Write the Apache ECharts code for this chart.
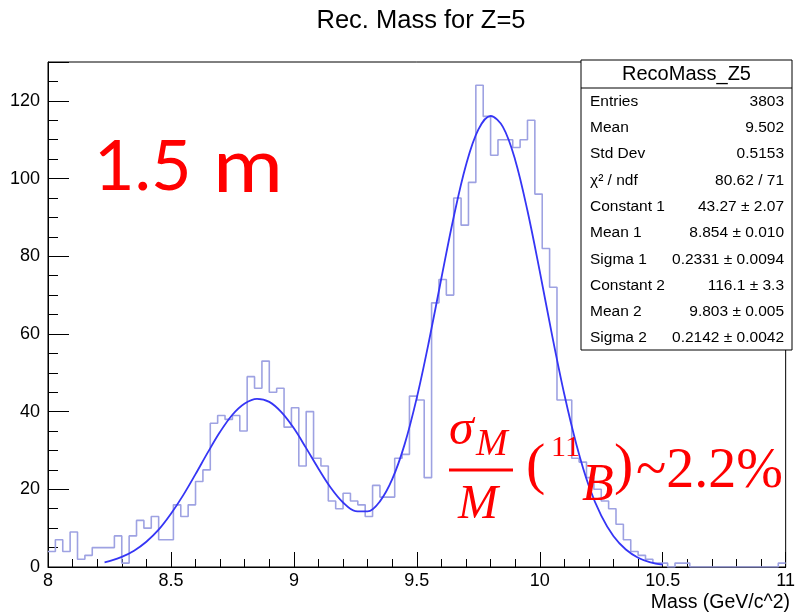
<!DOCTYPE html>
<html>
<head>
<meta charset="utf-8">
<script src="https://cdn.jsdelivr.net/npm/echarts@6/dist/echarts.min.js"></script>
<style>
html,body{margin:0;padding:0;background:#fff;}
#main{width:798px;height:613px;}
</style>
</head>
<body>
<div id="main"></div>
<script>
// ---- data ----
const chartTitle = 'Rec. Mass for Z=5';
const xAxisTitle = 'Mass (GeV/c^2)';
const binStart = 8.0;
const binWidth = 0.03;
const counts = [
  4, 7, 4, 9, 2, 3, 5, 5, 5, 8,
  1, 8, 12, 10, 13, 7, 7, 16, 13, 16,
  22, 25, 37, 39, 38, 39, 35, 49, 46, 53,
  45, 46, 36, 41, 26, 40, 28, 26, 17, 15,
  19, 17, 16, 13, 21, 18, 18, 28, 29, 44,
  43, 23, 68, 74, 70, 95, 88, 99, 124, 116,
  106, 110, 110, 108, 110, 115, 96, 82, 72, 43,
  43, 28, 27, 23, 20, 17, 15, 11, 7, 4,
  3, 2, 1, 1, 0, 1, 1, 0, 0, 0,
  0, 0, 0, 0, 0, 0, 0, 0, 0, 1
];
const fitX = [8.23, 8.25, 8.30, 8.35, 8.40, 8.45, 8.50, 8.55, 8.60, 8.65,
  8.70, 8.75, 8.80, 8.85, 8.90, 8.95, 9.00, 9.05, 9.10, 9.15,
  9.20, 9.25, 9.30, 9.35, 9.40, 9.45, 9.50, 9.55, 9.60, 9.65,
  9.70, 9.75, 9.80, 9.85, 9.90, 9.95, 10.00, 10.05, 10.10, 10.15,
  10.20, 10.25, 10.30, 10.35, 10.40, 10.45, 10.50];
const fitY = [1.2, 1.5, 2.6, 4.2, 6.5, 9.6, 13.7, 18.5, 23.9, 29.5,
  34.8, 39.2, 42.1, 43.3, 42.5, 39.8, 35.7, 30.6, 25.3, 20.4,
  16.6, 14.4, 14.3, 16.9, 22.6, 31.5, 43.6, 58.3, 74.4, 90.1,
  103.5, 112.6, 116.1, 113.3, 104.8, 91.7, 76.1, 59.7, 44.4, 31.3,
  20.8, 13.2, 7.9, 4.5, 2.4, 1.2, 0.6];
const statsTitle = 'RecoMass_Z5';
const statsNames = ['Entries', 'Mean', 'Std Dev', 'χ² / ndf', 'Constant 1', 'Mean 1', 'Sigma 1', 'Constant 2', 'Mean 2', 'Sigma 2'];
const statsValues = ['3803', '9.502', '0.5153', '80.62 / 71', '43.27 ± 2.07', '8.854 ± 0.010', '0.2331 ± 0.0094', '116.1 ± 3.3', '9.803 ± 0.005', '0.2142 ± 0.0042'];
const bigLabelNum = '1.5';
const bigLabelUnit = 'm';

// ---- build series ----
const histData = counts.map((c, k) => [binStart + k * binWidth, c]);
histData.push([binStart + counts.length * binWidth, counts[counts.length - 1]]);
const fitData = fitX.map((x, i) => [x, fitY[i]]);

const SANS = '"Liberation Sans", Arial, Helvetica, sans-serif';
const SERIF = '"Liberation Serif", "DejaVu Serif", serif';
const RED = '#ff0000';

const graphics = [];
// title
graphics.push({type: 'text', x: 421, y: 21, style: {text: chartTitle, font: '25.5px ' + SANS, fill: '#000', align: 'center', verticalAlign: 'middle'}});
// x axis title
graphics.push({type: 'text', x: 790, y: 603, style: {text: xAxisTitle, font: '19.5px ' + SANS, fill: '#000', align: 'right', verticalAlign: 'middle'}});
// stats box
const boxL = 581, boxR = 792, boxT = 60, boxB = 350, headB = 88;
graphics.push({type: 'rect', shape: {x: boxL, y: boxT, width: boxR - boxL, height: boxB - boxT}, style: {fill: '#fff', stroke: '#000', lineWidth: 1}, z: 10});
graphics.push({type: 'line', shape: {x1: boxL, y1: headB, x2: boxR, y2: headB}, style: {stroke: '#000', lineWidth: 1}, z: 11});
graphics.push({type: 'text', x: (boxL + boxR) / 2, y: 74, z: 11, style: {text: statsTitle, font: '20px ' + SANS, fill: '#000', align: 'center', verticalAlign: 'middle'}});
statsNames.forEach((n, i) => {
  const y = 101.5 + i * 26.3;
  graphics.push({type: 'text', x: 590, y: y, z: 11, style: {text: n, font: '15.5px ' + SANS, fill: '#000', align: 'left', verticalAlign: 'middle'}});
  graphics.push({type: 'text', x: 784, y: y, z: 11, style: {text: statsValues[i], font: '15.5px ' + SANS, fill: '#000', align: 'right', verticalAlign: 'middle'}});
});
// big red label
graphics.push({type: 'text', x: 94, y: 167, z: 12, style: {text: bigLabelNum, font: '70px Lato, "Open Sans", sans-serif', fill: RED, align: 'left', verticalAlign: 'middle'}});
graphics.push({type: 'text', x: 213, y: 167, scaleX: 1.12, z: 12, style: {text: bigLabelUnit, font: '76px Lato, "Open Sans", sans-serif', fill: RED, align: 'left', verticalAlign: 'middle'}});
// formula sigma_M / M ( 11B ) ~2.2%
graphics.push({type: 'text', x: 449, y: 431, z: 12, style: {text: 'σ', font: 'italic 50px ' + SERIF, fill: RED, align: 'left', verticalAlign: 'middle'}});
graphics.push({type: 'text', x: 476, y: 445, z: 12, style: {text: 'M', font: 'italic 38px ' + SERIF, fill: RED, align: 'left', verticalAlign: 'middle'}});
graphics.push({type: 'line', z: 12, shape: {x1: 449, y1: 470, x2: 513, y2: 470}, style: {stroke: RED, lineWidth: 3}});
graphics.push({type: 'text', x: 458, y: 505, z: 12, style: {text: 'M', font: 'italic 48px ' + SERIF, fill: RED, align: 'left', verticalAlign: 'middle'}});
graphics.push({type: 'text', x: 526, y: 468, z: 12, style: {text: '(', font: '58px ' + SERIF, fill: RED, align: 'left', verticalAlign: 'middle'}});
graphics.push({type: 'text', x: 551, y: 448, z: 12, style: {text: '11', font: '30px ' + SERIF, fill: RED, align: 'left', verticalAlign: 'middle'}});
graphics.push({type: 'text', x: 582, y: 486, z: 12, style: {text: 'B', font: 'italic 52px ' + SERIF, fill: RED, align: 'left', verticalAlign: 'middle'}});
graphics.push({type: 'text', x: 614, y: 468, z: 12, style: {text: ')', font: '58px ' + SERIF, fill: RED, align: 'left', verticalAlign: 'middle'}});
graphics.push({type: 'text', x: 636, y: 472, z: 12, style: {text: '~2.2%', font: '56px ' + SERIF, fill: RED, align: 'left', verticalAlign: 'middle'}});

const axisFont = {color: '#000', fontFamily: SANS, fontSize: 18};
const option = {
  animation: false,
  backgroundColor: '#fff',
  grid: {left: 48, right: 6, top: 62, bottom: 46, show: true, borderColor: '#000', borderWidth: 1, backgroundColor: 'transparent'},
  xAxis: {
    type: 'value', min: 8, max: 11, interval: 0.5,
    axisLine: {show: true, onZero: false, lineStyle: {color: '#000', width: 1}},
    axisTick: {show: true, inside: true, length: 15, lineStyle: {color: '#000'}},
    minorTick: {show: true, splitNumber: 5, length: 8, lineStyle: {color: '#000'}},
    axisLabel: Object.assign({margin: 5, formatter: v => String(v)}, axisFont),
    splitLine: {show: false}
  },
  yAxis: [{
    type: 'value', min: 0, max: 130, interval: 5,
    axisLine: {show: true, onZero: false, lineStyle: {color: '#000', width: 1}},
    axisTick: {show: true, inside: true, length: 10, lineStyle: {color: '#000'}},
    axisLabel: Object.assign({margin: 8, formatter: v => (v % 20 === 0 ? String(v) : '')}, axisFont),
    splitLine: {show: false}
  }, {
    type: 'value', min: 0, max: 130, interval: 20, position: 'left',
    axisLine: {show: false},
    axisTick: {show: true, inside: true, length: 21, lineStyle: {color: '#000'}},
    axisLabel: {show: false},
    splitLine: {show: false}
  }],
  series: [{
    type: 'line', name: 'hist', data: histData, step: 'end', showSymbol: false,
    lineStyle: {color: '#9ea2e2', width: 1.6}, z: 3
  }, {
    type: 'line', name: 'fit', data: fitData, smooth: 0.35, showSymbol: false,
    lineStyle: {color: '#3535f5', width: 1.8}, z: 4
  }],
  graphic: graphics
};
const chart = echarts.init(document.getElementById('main'));
chart.setOption(option);
</script>
</body>
</html>
